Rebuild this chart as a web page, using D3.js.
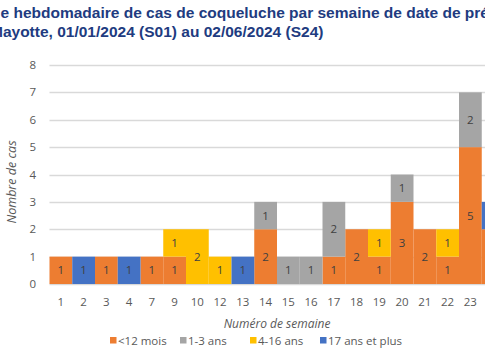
<!DOCTYPE html>
<html><head><meta charset="utf-8">
<script src="https://cdn.jsdelivr.net/npm/d3@7"></script>
<style>html,body{margin:0;padding:0;background:#fff;overflow:hidden}svg{display:block}</style>
</head><body>
<svg id="chart" width="485" height="360"></svg>
<script>
const weeks = ["1","2","3","4","7","9","10","12","13","14","15","16","17","18","19","20","21","22","23","24"];
const under12m = [1,0,1,0,1,1,0,0,0,2,0,0,1,2,1,3,2,1,5,2];
const age1to3 = [0,0,0,0,0,0,0,0,0,1,1,1,2,0,0,1,0,0,2,0];
const age4to16 = [0,0,0,0,0,1,2,1,0,0,0,0,0,0,1,0,0,1,0,0];
const age17plus = [0,1,0,1,0,0,0,0,1,0,0,0,0,0,0,0,0,0,0,1];
const seriesNames = ["<12 mois","1-3 ans","4-16 ans","17 ans et plus"];
const seriesColors = ["#ED7D31","#A5A5A5","#FFC000","#4472C4"];
const yTicks = [0,1,2,3,4,5,6,7,8];
const titleLine1 = "e hebdomadaire de cas de coqueluche par semaine de date de prélèvement";
const titleLine2 = "Mayotte, 01/01/2024 (S01) au 02/06/2024 (S24)";

const W = 485;
const svg = d3.select("#chart");
const font = "'Open Sans', 'Liberation Sans', sans-serif";

const keys = ["a","b","c","d"];
const table = weeks.map((w,i)=>({week:w,a:under12m[i],b:age1to3[i],c:age4to16[i],d:age17plus[i]}));
const stack = d3.stack().keys(keys)(table);

const x = d3.scaleBand().domain(weeks).range([49.5, 504.5]).padding(0);
const y = d3.scaleLinear().domain([0,8]).range([284, 65]);
const visible = w => x(w) + x.bandwidth()/2 + 6 < W;

// gridlines
svg.append("g").selectAll("line").data(yTicks).join("line")
  .attr("x1", 49.5).attr("x2", 520)
  .attr("y1", d=>Math.round(y(d))+0.5).attr("y2", d=>Math.round(y(d))+0.5)
  .attr("stroke", "#D9D9D9").attr("stroke-width", 1.3);

// y tick labels
svg.append("g").selectAll("text").data(yTicks).join("text")
  .attr("x", 36).attr("y", d=>y(d)+4)
  .attr("text-anchor","end").attr("font-family",font).attr("font-size",11.5).attr("fill","#595959")
  .text(d=>d);

// bars
const groups = svg.append("g").selectAll("g").data(stack).join("g")
  .attr("fill",(d,i)=>seriesColors[i]);
groups.selectAll("rect").data(d=>d).join("rect")
  .attr("x", d=>x(d.data.week)).attr("width", x.bandwidth())
  .attr("y", d=>y(d[1])).attr("height", d=>y(d[0])-y(d[1]));

// bar labels (only those inside the visible frame)
const labels = svg.append("g");
stack.forEach(s=>{
  s.forEach(d=>{
    const v = d[1]-d[0];
    if (v>0 && visible(d.data.week)) {
      labels.append("text")
        .attr("x", x(d.data.week)+x.bandwidth()/2)
        .attr("y", (y(d[0])+y(d[1]))/2+4)
        .attr("text-anchor","middle").attr("font-family",font).attr("font-size",11.5).attr("fill","#404040")
        .text(v);
    }
  });
});

// x tick labels
svg.append("g").selectAll("text").data(weeks.filter(visible)).join("text")
  .attr("x", d=>x(d)+x.bandwidth()/2).attr("y", 306)
  .attr("text-anchor","middle").attr("font-family",font).attr("font-size",11.5).attr("fill","#595959")
  .text(d=>d);

// axis titles
svg.append("text").attr("transform","translate(16,182) rotate(-90)")
  .attr("text-anchor","middle").attr("font-family",font).attr("font-size",12.5).attr("font-style","italic").attr("fill","#595959")
  .text("Nombre de cas");
svg.append("text").attr("x",277).attr("y",328)
  .attr("text-anchor","middle").attr("font-family",font).attr("font-size",12).attr("font-style","italic").attr("fill","#595959")
  .text("Numéro de semaine");

// legend
const legendX = [110,180,250,320];
const lg = svg.append("g");
seriesNames.forEach((n,i)=>{
  lg.append("rect").attr("x",legendX[i]).attr("y",337).attr("width",6.5).attr("height",6.5).attr("fill",seriesColors[i]);
  lg.append("text").attr("x",legendX[i]+8).attr("y",345).attr("font-family",font).attr("font-size",11.5).attr("fill","#595959").text(n);
});

// title
const tf = "'Liberation Sans', Arial, sans-serif";
svg.append("text").attr("x",0.5).attr("y",18).attr("font-family",tf).attr("font-weight","bold").attr("font-size",15.5).attr("fill","#213B80").text(titleLine1);
svg.append("text").attr("x",-10).attr("y",37).attr("font-family",tf).attr("font-weight","bold").attr("font-size",15.5).attr("fill","#213B80").text(titleLine2);
</script>
</body></html>
